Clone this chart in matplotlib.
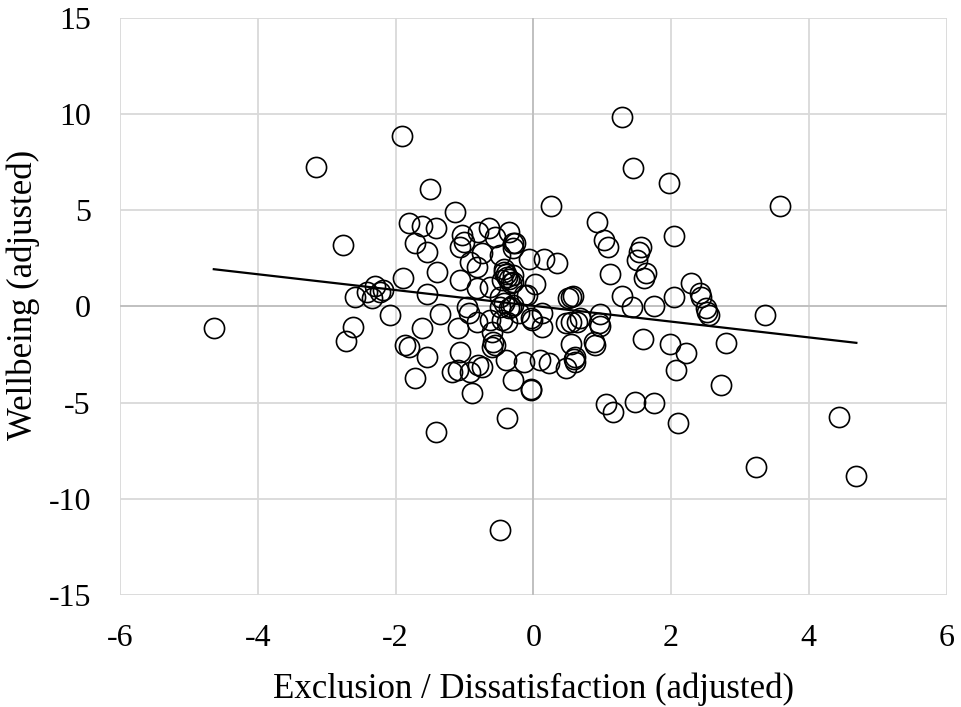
import numpy as np
import matplotlib
matplotlib.use("Agg")
import matplotlib.pyplot as plt

# values
exclusion = [
    -4.64, -3.15, -2.76, -2.72, -2.62, -1.90, -1.50, -1.41, -0.48, 1.29,
    1.45, 1.97, 0.25, 3.58, 0.93, 1.02, 1.09, 2.04, 1.56, 1.54,
    1.51, 1.12, 1.63, 1.60, 2.29, 2.42, 2.43, 2.51, 2.55, 3.37,
    2.04, 1.75, 1.43, 1.29, 0.55, 0.51, 0.03, 0.35, 0.15, -0.06,
    -0.36, -0.29, 0.97, 0.97, 1.59, 1.99, 2.21, 2.79, 2.07, 2.72,
    1.06, 1.16, 1.47, 1.75, 2.10, 4.44, 3.23, 4.69, -0.38, -0.29,
    -0.04, -0.03, 0.47, 0.61, 0.61, 0.22, 0.10, -0.14, -0.39, 0.54,
    0.90, 0.88, 0.54, 0.64, 0.68, 0.47, 0.13, -0.02, 0.13, -0.36,
    -0.45, 2.52, -1.14, -1.80, -1.62, -1.41, -1.72, -1.55, -1.89, -1.40,
    -1.55, -2.30, -2.18, -2.08, -1.35, -1.04, -1.01, -1.06, -0.80, -0.65,
    -0.55, -0.26, -0.29, -0.75, -0.92, -0.82, -0.48, -1.06, -0.82, -0.63,
    -0.43, -0.38, -0.45, -0.29, -0.33, -0.48, -0.43, -0.33, -0.14, -0.96,
    -0.94, -1.62, -1.86, -1.81, -1.55, -1.72, -1.09, -0.82, -1.06, -0.60,
    -0.60, -0.55, -1.18, -1.09, -0.92, -0.80, -0.75, -0.89, -0.38, -0.04,
    0.95, -0.58, -0.63, -0.48, -0.29, -0.21, -0.09, -2.59, -2.42, -2.22,
    -2.34, -0.40, -0.35, -0.30, -0.42, 0.57, 0.59,
]
wellbeing = [
    -1.12, 7.27, 3.20, -1.80, -1.07, 8.88, 6.12, -6.54, -11.64, 9.89,
    7.23, 6.42, 5.23, 5.23, 4.40, 3.46, 3.11, 3.69, 3.11, 2.85,
    2.42, 1.69, 1.73, 1.47, 1.24, 0.72, 0.51, -0.09, -0.44, -0.44,
    0.48, 0.05, -0.01, 0.55, 0.51, 0.43, 1.17, 2.28, 2.47, 2.47,
    3.90, 3.29, -0.39, -1.02, -1.69, -1.97, -2.44, -1.89, -3.31, -4.09,
    -5.09, -5.51, -4.96, -5.04, -6.08, -5.74, -8.34, -8.83, -5.81, -3.83,
    -4.31, -4.35, -3.22, -2.87, -2.61, -2.96, -2.81, -2.87, -2.81, -1.95,
    -2.01, -1.83, -0.79, -0.79, -0.61, -0.88, -1.05, -0.70, -0.35, -0.09,
    -0.70, -0.27, 4.94, 4.36, 4.19, 4.07, 3.29, 2.85, 1.47, 1.81,
    0.65, 1.07, 0.86, -0.44, -0.39, 3.72, 3.38, 3.11, 3.90, 4.07,
    3.64, 3.29, 3.03, 2.77, 2.33, 2.07, 2.68, 1.38, 0.95, 1.03,
    1.81, 1.55, 1.38, 1.64, 1.21, 0.51, 0.17, -0.01, 0.60, -0.01,
    -0.35, -1.14, -2.01, -2.09, -2.61, -3.74, -1.14, -0.79, -2.35, -1.31,
    -2.09, -2.01, -3.40, -3.31, -3.40, -3.05, -3.14, -4.52, -0.79, -0.62,
    -0.88, -1.83, -0.70, -0.01, 0.08, -0.35, 0.60, 0.51, 0.77, 0.77,
    0.43, 1.70, 1.45, 1.30, 1.95, 0.56, -2.75,
]

x_ticks = [-6, -4, -2, 0, 2, 4, 6]
y_ticks = [-15, -10, -5, 0, 5, 10, 15]

plt.rcParams['font.family'] = ['Liberation Serif', 'DejaVu Serif']
plt.rcParams['axes.unicode_minus'] = False

x = np.array(exclusion)
y = np.array(wellbeing)

fig = plt.figure(figsize=(9.61, 7.07), dpi=100)
ax = fig.add_axes([0.125, 0.159, 0.86, 0.815])

ax.set_xlim(-6, 6)
ax.set_ylim(-15, 15)
ax.set_xticks(x_ticks)
ax.set_yticks(y_ticks)
ax.grid(True, color='#d9d9d9', linewidth=1.3)
ax.set_axisbelow(True)
ax.axvline(0, color='#bfbfbf', linewidth=1.3, zorder=1)
ax.axhline(0, color='#bfbfbf', linewidth=1.3, zorder=1)
for s in ax.spines.values():
    s.set_visible(False)
ax.tick_params(length=0, labelsize=23)
ax.tick_params(axis='y', pad=21)
ax.tick_params(axis='x', pad=21)

ax.plot(x, y, 'o', markersize=14.5, markerfacecolor='none',
        markeredgecolor='black', markeredgewidth=1.2, zorder=3)

# linear trend line over the data range
slope, intercept = np.polyfit(x, y, 1)
xl = np.array([x.min(), x.max()])
ax.plot(xl, slope * xl + intercept, color='black', linewidth=1.6, zorder=4)

ax.set_xlabel('Exclusion / Dissatisfaction (adjusted)', fontsize=25, labelpad=14)
ax.set_ylabel('Wellbeing (adjusted)', fontsize=25, labelpad=6)
ax.yaxis.set_label_coords(-0.097, 0.52)

fig.savefig('out.png', dpi=100)
